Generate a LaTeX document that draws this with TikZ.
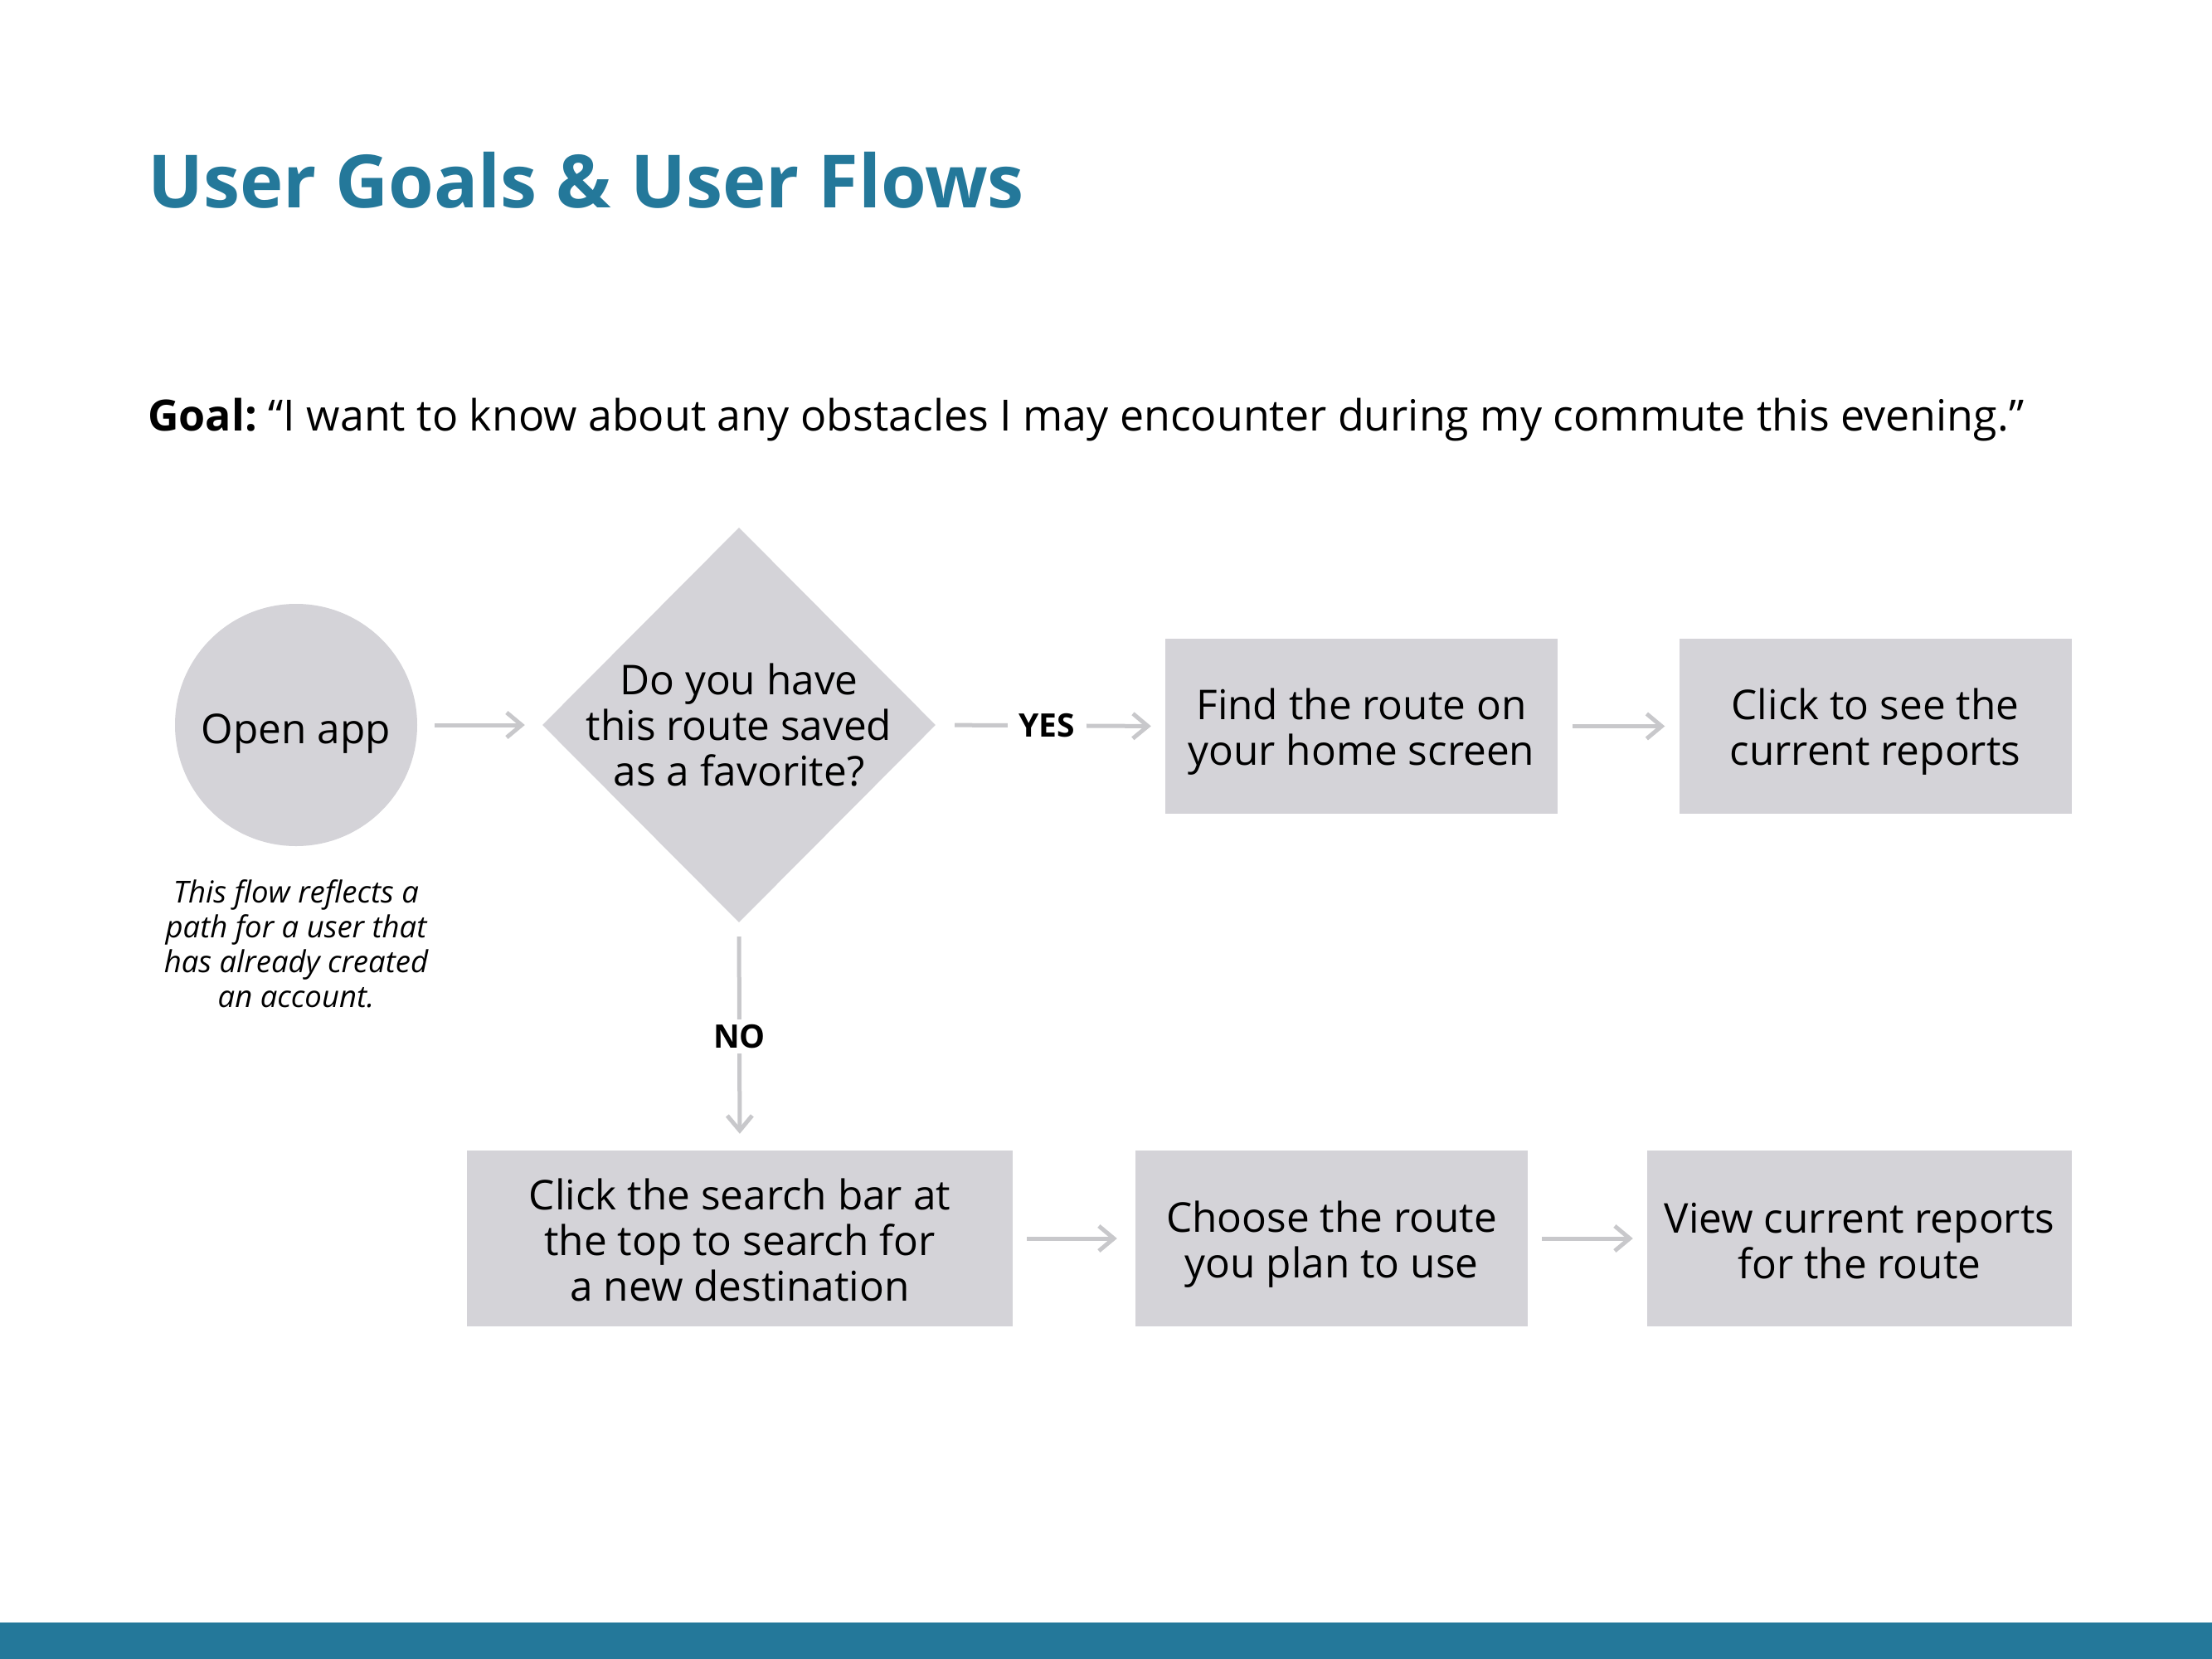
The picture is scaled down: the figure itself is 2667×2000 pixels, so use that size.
\documentclass[tikz,border=0pt]{standalone}
\usepackage{fontspec}
\setmainfont{Open Sans}
\usetikzlibrary{shapes.geometric,arrows.meta}
\definecolor{titleblue}{HTML}{24789A}
\definecolor{shapefill}{HTML}{D4D3D8}
\definecolor{linegray}{HTML}{C8C8CB}
\tikzset{
  shapebox/.style={rectangle, fill=shapefill, inner sep=0pt},
  boxtext/.style={inner sep=0pt, align=center, font=\fontsize{49.5}{55}\selectfont},
  flow/.style={draw=linegray, line width=5pt,
    -{Straight Barb[length=18pt,width=30pt,line width=5pt]}},
  flowlabel/.style={fill=white, font=\bfseries\fontsize{39}{39}\selectfont,
    inner xsep=14pt, inner ysep=8pt},
}
\begin{document}
\begin{tikzpicture}[x=1pt,y=-1pt]
\useasboundingbox (0,0) rectangle (2667,2000);
\fill[white] (0,0) rectangle (2667,2000);
% bottom bar
\fill[titleblue] (0,1956) rectangle (2667,2000);
% title
\node[anchor=base west, inner sep=0pt, text=titleblue,
  font=\bfseries\fontsize{88.5}{88}\selectfont] (title) at (178,250) {User Goals \& User Flows};
% goal
\node[anchor=base west, inner sep=0pt, font=\fontsize{51.9}{52}\selectfont] (goal) at (178,519)
  {\textbf{Goal:}\hspace{-0.08em} “I want to know about any obstacles I may encounter during my commute this evening.”};
% shapes
\node[circle, fill=shapefill, minimum size=292pt, inner sep=0pt] (open) at (357,874) {};
\node[diamond, fill=shapefill, minimum width=474pt, minimum height=476pt, inner sep=0pt] (q) at (891,874) {};
\node[shapebox, minimum width=473pt, minimum height=211pt] (b1) at (1641.5,875.5) {};
\node[shapebox, minimum width=473pt, minimum height=211pt] (b2) at (2261,875.5) {};
\node[shapebox, minimum width=658pt, minimum height=212pt] (b3) at (892,1493) {};
\node[shapebox, minimum width=473pt, minimum height=212pt] (b4) at (1605.5,1493) {};
\node[shapebox, minimum width=512pt, minimum height=212pt] (b5) at (2242,1493) {};
% texts
\node[boxtext, yshift=-10pt] (opentext) at (open.center) {Open app};
\node[boxtext] (qtext) at (q.center) {Do you have\\this route saved\\as a favorite?};
\node[boxtext, yshift=-7pt] (b1text) at (b1.center) {Find the route on\\your home screen};
\node[boxtext, yshift=-7pt] (b2text) at (b2.center) {Click to see the\\current reports};
\node[boxtext, yshift=-2pt] (b3text) at (b3.center) {Click the search bar at\\the top to search for\\a new destination};
\node[boxtext, yshift=-7pt] (b4text) at (b4.center) {Choose the route\\you plan to use};
\node[boxtext, yshift=-3pt] (b5text) at (b5.center) {View current reports\\for the route};
\node[anchor=north, align=center, inner sep=0pt,
  font=\itshape\fontsize{36.5}{42}\selectfont] (note) at (357,1060)
  {This flow reflects a\\path for a user that\\has already created\\an account.};
% connectors
\draw[flow, shorten <=21pt, shorten >=21pt] (open.east) -- (q.west);
\draw[flow, shorten <=23pt, shorten >=17pt] (q.east) -- node[flowlabel, pos=0.485] (yes) {YES} (b1.west);
\draw[flow, shorten <=18pt, shorten >=17pt] (b1.east) -- (b2.west);
\draw[flow, shorten <=17pt, shorten >=20pt] (q.south) -- node[flowlabel, inner ysep=6pt] (no) {NO} (b3.north);
\draw[flow, shorten <=17pt, shorten >=22pt] (b3.east) -- (b4.west);
\draw[flow, shorten <=17pt, shorten >=17pt] (b4.east) -- (b5.west);
\end{tikzpicture}
\end{document}
